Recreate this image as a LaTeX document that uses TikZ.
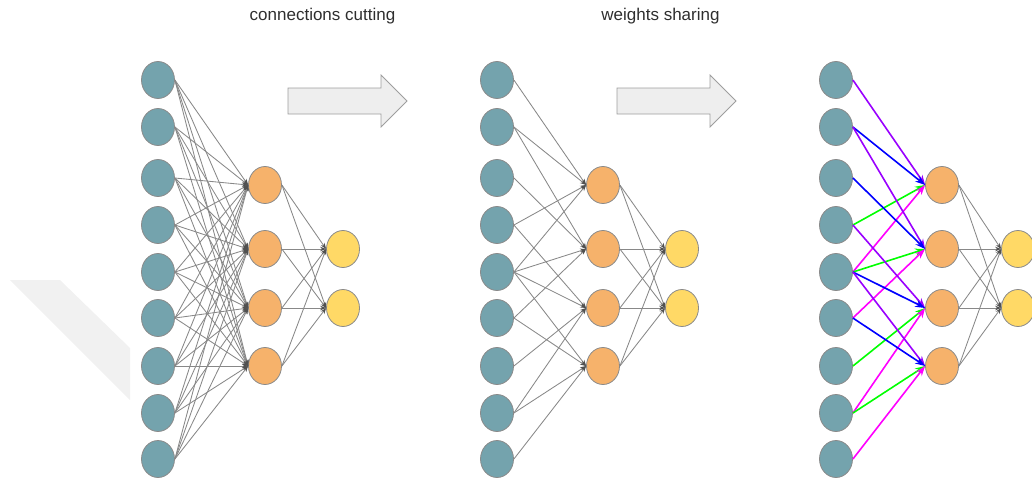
\documentclass[tikz,border=0pt]{standalone}
\usepackage{fontspec}
\setmainfont{Liberation Sans}
\usetikzlibrary{shapes.geometric,arrows.meta}
\definecolor{inputfill}{HTML}{74A3AD}
\definecolor{hiddenfill}{HTML}{F6B26B}
\definecolor{outputfill}{HTML}{FFD966}
\definecolor{nodeborder}{HTML}{8A8A8A}
\definecolor{wiregray}{HTML}{888888}
\definecolor{tipgray}{HTML}{505050}
\definecolor{wpurple}{HTML}{9900FF}
\definecolor{wblue}{HTML}{0000FF}
\definecolor{wgreen}{HTML}{00FF00}
\definecolor{wmagenta}{HTML}{FF00FF}
\definecolor{blockfill}{HTML}{EEEEEE}
\definecolor{blockline}{HTML}{9E9E9E}
\definecolor{bandfill}{HTML}{F1F1F1}
\begin{document}
\begin{tikzpicture}[x=1pt,y=-1pt,
  unit/.style={ellipse,draw=nodeborder,line width=0.8pt,
    minimum width=33pt,minimum height=37pt,inner sep=0pt},
  inunit/.style={unit,fill=inputfill},
  hidunit/.style={unit,fill=hiddenfill},
  outunit/.style={unit,fill=outputfill},
  wire/.style={draw=wiregray,line width=0.85pt,
    -{Stealth[length=6pt,width=4.5pt,color=tipgray]}},
  shared/.style={line width=1.6pt,-{Stealth[length=10pt,width=7pt]}},
  block/.style={fill=blockfill,draw=blockline,line width=0.8pt},
  title/.style={font=\fontsize{17}{20}\selectfont,text=black!82,anchor=base}
]
\useasboundingbox (0,0) rectangle (1032,491);
\clip (0,0) rectangle (1032,491);

% faint band at the left
\fill[bandfill] (10,280) -- (60,280) -- (130,348) -- (130,400) -- cycle;

% titles
\node[title] (t1) at (322.5,20.5) {connections cutting};
\node[title] (t2) at (660.5,20.5) {weights sharing};

% block arrows between the three networks
\draw[block] (288,88) -- (381,88) -- (381,75) -- (407,101) -- (381,127)
  -- (381,114) -- (288,114) -- cycle;
\draw[block] (617,88) -- (710,88) -- (710,75) -- (736,101) -- (710,127)
  -- (710,114) -- (617,114) -- cycle;

% the three networks: inputs, hidden units, outputs
\foreach \net/\xi/\xh/\xo in {L/158/265/343, M/497/603/682, R/836/942/1018} {
  \foreach \yy [count=\k] in {80,127,178,225,272,318,366,413,459}
    \node[inunit] (\net-i\k) at (\xi,\yy) {};
  \foreach \yy [count=\k] in {185,249,308,366}
    \node[hidunit] (\net-h\k) at (\xh,\yy) {};
  \foreach \yy [count=\k] in {249,308}
    \node[outunit] (\net-o\k) at (\xo,\yy) {};
}

% fully connected input layer
\foreach \a in {1,...,9}
  \foreach \b in {1,...,4}
    \draw[wire] (L-i\a.east) -- (L-h\b.west);

% local connections (2x2 window over a 3x3 input)
\foreach \h/\p/\q/\r/\s in {1/1/2/4/5, 2/2/3/5/6, 3/4/5/7/8, 4/5/6/8/9} {
  \foreach \a in {\p,\q,\r,\s}
    \draw[wire] (M-i\a.east) -- (M-h\h.west);
}

% shared weights, one colour per weight
\foreach \h/\p/\q/\r/\s in {1/1/2/4/5, 2/2/3/5/6, 3/4/5/7/8, 4/5/6/8/9} {
  \draw[shared,wpurple] (R-i\p.east) -- (R-h\h.west);
  \draw[shared,wblue] (R-i\q.east) -- (R-h\h.west);
  \draw[shared,wgreen] (R-i\r.east) -- (R-h\h.west);
  \draw[shared,wmagenta] (R-i\s.east) -- (R-h\h.west);
}

% hidden to output, fully connected in every network
\foreach \net in {L,M,R}
  \foreach \b in {1,...,4}
    \foreach \c in {1,2}
      \draw[wire] (\net-h\b.east) -- (\net-o\c.west);
\end{tikzpicture}
\end{document}
